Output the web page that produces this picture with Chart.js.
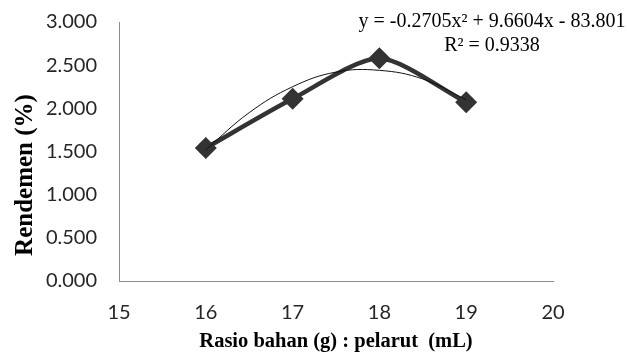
<!DOCTYPE html>
<html>
<head>
<meta charset="utf-8">
<script src="https://cdn.jsdelivr.net/npm/chart.js@4"></script>
<style>
  html, body { margin: 0; padding: 0; background: #fff; }
  #wrap { width: 627px; height: 354px; position: relative; }
</style>
</head>
<body>
<div id="wrap"><canvas id="rendemenChart"></canvas></div>
<script>
// rasio bahan : pelarut vs rendemen
const ratios = [16, 17, 18, 19];
const yields = [1.54, 2.11, 2.58, 2.07];

// polynomial trendline
const trendX = [16, 16.5, 17, 17.5, 18, 18.5, 19];
const trendY = [1.52, 1.95, 2.25, 2.42, 2.44, 2.34, 2.10];

const xTicks = [15, 16, 17, 18, 19, 20];
const yTicks = [0, 0.5, 1, 1.5, 2, 2.5, 3];

const eqLines = ["y = -0.2705x\u00B2 + 9.6604x - 83.801", "R\u00B2 = 0.9338"];
const yTitle = "Rendemen (%)";
const xTitle = "Rasio bahan (g) : pelarut  (mL)";

const tickFont = { family: "Lato", size: 20 };

// extra text the library doesn't place where excel does
const textPlugin = {
    id: "extraText",
    afterDraw(chart) {
        const ctx = chart.ctx;
        ctx.save();
        ctx.fillStyle = "#000";
        ctx.textAlign = "center";
        ctx.textBaseline = "middle";
        ctx.font = "20px 'Liberation Serif'";
        ctx.fillText(eqLines[0], 492, 22);
        ctx.fillText(eqLines[1], 492, 46);

        ctx.translate(26, 175);
        ctx.rotate(-Math.PI / 2);
        ctx.font = "bold 25px 'Liberation Serif'";
        ctx.fillText(yTitle, 0, 0);
        ctx.restore();
    }
};

new Chart(document.getElementById("rendemenChart"), {
    type: "scatter",
    data: {
        datasets: [
            {
                label: "Rendemen",
                data: ratios.map((r, i) => ({ x: r, y: yields[i] })),
                showLine: true,
                borderColor: "#333333",
                backgroundColor: "#333333",
                borderWidth: 4.5,
                tension: 0.25,
                pointStyle: "rectRot",
                pointRadius: 11,
                pointBorderWidth: 0,
                order: 2
            },
            {
                label: "Poly. (Rendemen)",
                data: trendX.map((x, i) => ({ x: x, y: trendY[i] })),
                showLine: true,
                borderColor: "#111111",
                borderWidth: 1,
                tension: 0.4,
                pointRadius: 0,
                order: 1
            }
        ]
    },
    options: {
        responsive: true,
        maintainAspectRatio: false,
        animation: false,
        layout: { padding: { left: 0, right: 74, top: 22, bottom: 0 } },
        plugins: {
            legend: { display: false },
            tooltip: { enabled: false }
        },
        scales: {
            x: {
                type: "linear",
                min: 15,
                max: 20,
                afterBuildTicks: (axis) => { axis.ticks = xTicks.map(v => ({ value: v })); },
                afterFit: (axis) => { axis.height = 73; },
                grid: { display: false, drawTicks: false },
                border: { color: "#8c8c8c", width: 1 },
                ticks: { font: tickFont, color: "#262626", padding: 20 },
                title: {
                    display: true,
                    text: xTitle,
                    color: "#000",
                    font: { family: "Liberation Serif", size: 20.5, weight: "bold" },
                    padding: { top: 0, bottom: 0 }
                }
            },
            y: {
                min: 0,
                max: 3,
                afterBuildTicks: (axis) => { axis.ticks = yTicks.map(v => ({ value: v })); },
                afterFit: (axis) => {
                    axis.width = 119;
                    // tick padding shouldn't push the plot down
                    axis.paddingTop = 12;
                    axis.paddingBottom = 12;
                },
                grid: { display: false, drawTicks: false },
                border: { color: "#8c8c8c", width: 1 },
                ticks: {
                    font: tickFont,
                    color: "#262626",
                    padding: 22,
                    callback: (v) => Number(v).toFixed(3)
                }
            }
        }
    },
    plugins: [textPlugin]
});
</script>
</body>
</html>
